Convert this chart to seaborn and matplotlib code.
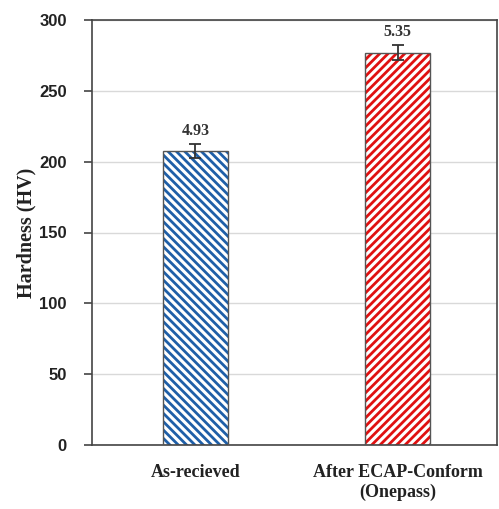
import matplotlib
matplotlib.use("Agg")
import matplotlib.pyplot as plt
import seaborn as sns
import pandas as pd

categories = ["As-recieved", "After ECAP-Conform\n(Onepass)"]
hardness = [207.5, 277.0]
errors = [4.93, 5.35]
error_labels = ["4.93", "5.35"]
colors = ["#1f5fa8", "#e01010"]
hatches = ["\\\\\\\\", "////"]

df = pd.DataFrame({"cat": categories, "hv": hardness})

sns.set_style("white")
plt.rcParams["hatch.linewidth"] = 2.0

fig = plt.figure(figsize=(4.99, 5.09), dpi=100)
ax = fig.add_axes([92 / 499, 1 - 445 / 509, 405 / 499, 425 / 509])

# hatched fill
sns.barplot(data=df, x="cat", y="hv", hue="cat", palette=["white", "white"],
            width=0.32, legend=False, ax=ax, errorbar=None, zorder=2)
for p, c, h in zip(ax.patches, colors, hatches):
    p.set_hatch(h)
    p.set_edgecolor(c)
    p.set_linewidth(0)

# outline
n0 = len(ax.patches)
sns.barplot(data=df, x="cat", y="hv", width=0.32, fill=False, color="#555555",
            linewidth=1.0, errorbar=None, ax=ax, zorder=3)
for p in ax.patches[n0:]:
    p.set_edgecolor("#555555")
    p.set_facecolor("none")

ax.errorbar(x=range(len(categories)), y=hardness, yerr=errors, fmt="none",
            ecolor="#333333", elinewidth=1.3, capsize=4, capthick=1.3, zorder=4)

for i, (v, e, lab) in enumerate(zip(hardness, errors, error_labels)):
    ax.text(i, v + e + 3.5, lab, ha="center", va="bottom", fontsize=11.5,
            fontfamily="Liberation Serif", fontweight="bold", color="#333333")

ax.set_ylim(0, 300)
ax.set_xlim(-0.51, 1.49)
ax.set_yticks(range(0, 301, 50))
ax.yaxis.grid(True, color="#d9d9d9", linewidth=1)
ax.set_axisbelow(True)

for s in ax.spines.values():
    s.set_visible(True)
    s.set_color("#444444")
    s.set_linewidth(1.2)

ax.tick_params(axis="y", which="both", left=True, length=6, width=1.2,
               color="#444444", pad=12)
ax.tick_params(axis="x", bottom=False, pad=10)
for t in ax.get_yticklabels():
    t.set_fontfamily("Liberation Sans")
    t.set_fontweight("bold")
    t.set_fontsize(12)
    t.set_color("#222222")
for t in ax.get_xticklabels():
    t.set_fontfamily("Liberation Serif")
    t.set_fontweight("bold")
    t.set_fontsize(13)
    t.set_color("#222222")
    t.set_linespacing(1.2)

ax.set_xlabel("")
ax.set_ylabel("Hardness (HV)", fontfamily="Liberation Serif", fontweight="bold",
              fontsize=14.5, color="#222222", labelpad=2)

fig.savefig("out.png", dpi=100)
